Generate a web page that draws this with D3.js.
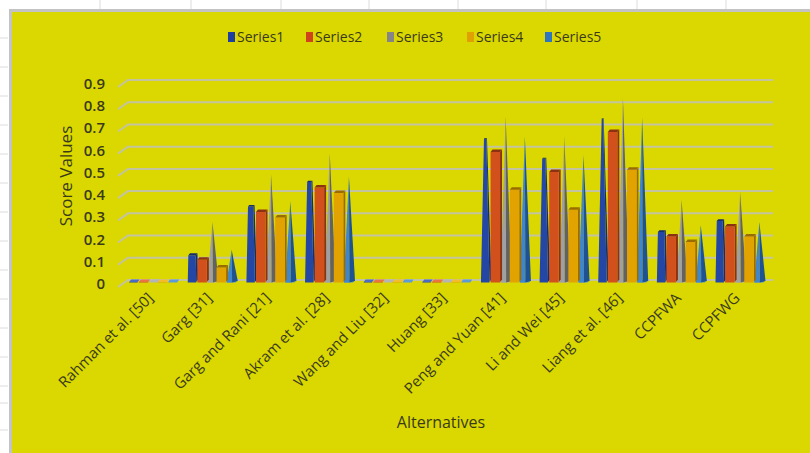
<!DOCTYPE html>
<html>
<head>
<meta charset="utf-8">
<script src="https://cdn.jsdelivr.net/npm/d3@7"></script>
<style>
  html, body { margin: 0; padding: 0; background: #ffffff; }
  svg { display: block; }
</style>
</head>
<body>
<svg id="chart" width="810" height="453"></svg>
<script>
// ---- data ----
const categories = [
  "Rahman et al. [50]", "Garg [31]", "Garg and Rani [21]", "Akram et al. [28]",
  "Wang and Liu [32]", "Huang [33]", "Peng and Yuan [41]", "Li and Wei [45]",
  "Liang et al. [46]", "CCPFWA", "CCPFWG"
];
const seriesNames = ["Series1", "Series2", "Series3", "Series4", "Series5"];
const series1 = [0, 0.12, 0.34, 0.45, 0, 0, 0.645, 0.555, 0.735, 0.225, 0.275];
const series2 = [0, 0.10, 0.315, 0.425, 0, 0, 0.585, 0.495, 0.675, 0.205, 0.25];
const series3 = [0, 0.27, 0.485, 0.58, 0, 0, 0.745, 0.655, 0.83, 0.37, 0.405];
const series4 = [0, 0.065, 0.29, 0.40, 0, 0, 0.415, 0.325, 0.505, 0.18, 0.205];
const series5 = [0, 0.145, 0.365, 0.475, 0, 0, 0.655, 0.57, 0.74, 0.255, 0.27];
const yTickValues = [0, 0.1, 0.2, 0.3, 0.4, 0.5, 0.6, 0.7, 0.8, 0.9];
const yTickLabels = ["0", "0.1", "0.2", "0.3", "0.4", "0.5", "0.6", "0.7", "0.8", "0.9"];
const yMax = 0.9;

const allSeries = [series1, series2, series3, series4, series5];

// ---- appearance ----
const shapes = ["taper", "box", "cone", "box", "cone"];
const palette = [
  { front: "#2447a6", side: "#162e6c", top: "#4a6ac4", swatch: "#1f3fa0" },
  { front: "#d2501c", side: "#8c3210", top: "#e87444", swatch: "#d0441c" },
  { front: "#a0a0a0", side: "#626262", top: "#b4b4b4", swatch: "#858585" },
  { front: "#e2a200", side: "#9a6c00", top: "#f2bc2c", swatch: "#e0a000" },
  { front: "#3f86cc", side: "#1f5290", top: "#5c9ad8", swatch: "#2e75c0" }
];
const bg = "#dad800";
const textColor = "#3a3a1a";
const gridColor = "#c4c3a0";
const font = "'Open Sans', Lato, 'Liberation Sans', sans-serif";

const svg = d3.select("#chart");

// sheet background with faint cell grid
svg.append("rect").attr("width", 810).attr("height", 453).attr("fill", "#ffffff");
const sheetCols = [100, 191, 281, 369, 458, 546, 637, 726];
const sheetRows = [38, 67, 96, 125, 154, 183, 212, 241, 270, 299, 328, 357, 386, 403, 430];
svg.selectAll("line.col").data(sheetCols).join("line")
  .attr("x1", d => d).attr("x2", d => d).attr("y1", 0).attr("y2", 9)
  .attr("stroke", "#dcdcdc");
svg.selectAll("line.row").data(sheetRows).join("line")
  .attr("x1", 0).attr("x2", 8).attr("y1", d => d).attr("y2", d => d)
  .attr("stroke", "#dcdcdc");
// chart area
svg.append("rect").attr("x", 10.5).attr("y", 10.5).attr("width", 810).attr("height", 453)
  .attr("fill", bg).attr("stroke", "#c3c3c3").attr("stroke-width", 3);

// ---- scales ----
const x = d3.scaleBand().domain(categories).range([124, 769]).paddingInner(0);
const clusterW = 48;
const xs = d3.scaleBand().domain(seriesNames).range([0, clusterW]);
const y = d3.scaleLinear().domain([0, yMax]).range([282, 82]);
const y0 = y(0);

// wall geometry (back wall and left side wall of the 3D box)
const backDx = 4, backDy = -2;     // back wall relative to bar plane
const frontDx = -6, frontDy = 5;   // front edge of side wall
const xLeft = x.range()[0], xRight = x.range()[1];

const grid = svg.append("g").attr("fill", "none").attr("stroke", gridColor).attr("stroke-width", 2);
yTickValues.forEach(v => {
  const yb = y(v) + backDy;
  grid.append("polyline")
    .attr("points", [
      [xLeft + frontDx, y(v) + frontDy],
      [xLeft + backDx, yb],
      [xRight + backDx, yb]
    ].map(p => p.join(",")).join(" "));
});

// y tick labels
svg.append("g").selectAll("text").data(yTickValues).join("text")
  .attr("x", 105).attr("y", (d) => y(d) + 3)
  .attr("text-anchor", "end").attr("dominant-baseline", "middle")
  .attr("font-family", font).attr("font-size", 15).attr("font-weight", 600)
  .attr("fill", textColor)
  .text((d, i) => yTickLabels[i]);

// ---- bars ----
const dx = 2, dy = 2.5; // depth of the 3D shapes
const bars = svg.append("g");
const pts = arr => arr.map(p => p.join(",")).join(" ");

// cones sit behind the boxes, so draw them first
const drawOrder = [2, 4, 0, 1, 3];

categories.forEach((cat, ci) => {
  const gx = x(cat) + (x.bandwidth() - clusterW) / 2;
  drawOrder.forEach(si => {
    const vals = allSeries[si];
    const v = vals[ci];
    const c = palette[si];
    const cx = gx + xs(seriesNames[si]) + xs.bandwidth() / 2;
    const yv = y(v);
    const shape = shapes[si];
    if (shape === "box") {
      const w = 9.5, sx = cx - 5;
      bars.append("polygon")
        .attr("points", pts([[sx + w, y0], [sx + w + dx, y0 - dy], [sx + w + dx, yv - dy], [sx + w, yv]]))
        .attr("fill", c.side);
      bars.append("rect").attr("x", sx).attr("y", yv).attr("width", w).attr("height", y0 - yv + 0.5)
        .attr("fill", c.front);
      bars.append("polygon")
        .attr("points", pts([[sx, yv], [sx + dx, yv - dy], [sx + w + dx, yv - dy], [sx + w, yv]]))
        .attr("fill", v > 0 ? c.side : c.top);
    } else if (shape === "taper") {
      const w = 8.5, sx = cx - 5;
      const mx = sx + w / 2;
      const k = 1 - v / yMax;
      const tw = w * k;
      const tdx = dx * k, tdy = dy * k;
      bars.append("polygon")
        .attr("points", pts([[sx + w, y0], [sx + w + dx, y0 - dy], [mx + tw / 2 + tdx, yv - tdy], [mx + tw / 2, yv]]))
        .attr("fill", c.side);
      bars.append("polygon")
        .attr("points", pts([[sx, y0 + 0.5], [sx + w, y0 + 0.5], [mx + tw / 2, yv], [mx - tw / 2, yv]]))
        .attr("fill", c.front);
      bars.append("polygon")
        .attr("points", pts([[mx - tw / 2, yv], [mx - tw / 2 + tdx, yv - tdy], [mx + tw / 2 + tdx, yv - tdy], [mx + tw / 2, yv]]))
        .attr("fill", v > 0 ? c.side : c.top);
    } else {
      const half = 4.6;
      // base disc of the cone
      bars.append("polygon")
        .attr("points", pts([[cx - half, y0 + 0.5], [cx - half + dx, y0 - dy], [cx + half + dx, y0 - dy], [cx + half, y0 + 0.5]]))
        .attr("fill", c.top);
      if (v <= 0) return;
      bars.append("polygon")
        .attr("points", pts([[cx - half, y0 + 0.5], [cx + 1, y0 + 0.5], [cx + 0.5, yv]]))
        .attr("fill", c.front);
      bars.append("polygon")
        .attr("points", pts([[cx + 1, y0 + 0.5], [cx + half + dx, y0 - 1], [cx + 0.5, yv]]))
        .attr("fill", c.side);
    }
  });
});

// ---- category labels ----
svg.append("g").selectAll("text").data(categories).join("text")
  .attr("transform", d => `translate(${x(d) + x.bandwidth() / 2 + 1},${299}) rotate(-45)`)
  .attr("text-anchor", "end")
  .attr("font-family", font).attr("font-size", 15)
  .attr("fill", textColor)
  .text(d => d);

// ---- axis titles ----
svg.append("text")
  .attr("x", 441).attr("y", 428).attr("text-anchor", "middle")
  .attr("font-family", font).attr("font-size", 16).attr("fill", textColor)
  .text("Alternatives");
svg.append("text")
  .attr("transform", "translate(72,176) rotate(-90)").attr("text-anchor", "middle")
  .attr("font-family", font).attr("font-size", 17).attr("fill", textColor)
  .text("Score Values");

// ---- legend ----
const legendX = [228, 306, 387, 467, 545];
const legend = svg.append("g");
seriesNames.forEach((name, i) => {
  legend.append("rect").attr("x", legendX[i]).attr("y", 32).attr("width", 7).attr("height", 10)
    .attr("fill", palette[i].swatch);
  legend.append("text").attr("x", legendX[i] + 9).attr("y", 42)
    .attr("font-family", "'Liberation Sans Narrow', " + font).attr("font-size", 14)
    .attr("fill", textColor).text(name);
});
</script>
</body>
</html>
